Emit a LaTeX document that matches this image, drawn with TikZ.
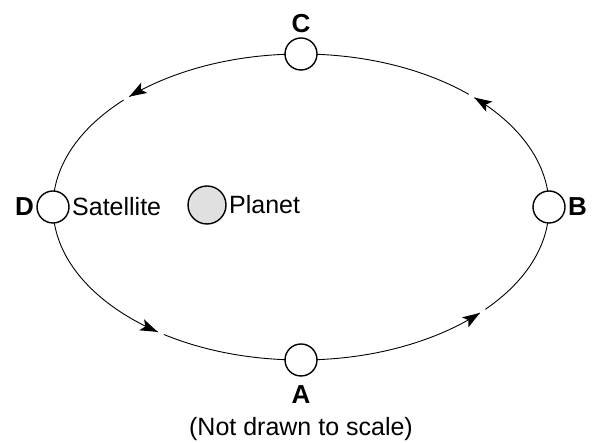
\documentclass[tikz,border=0pt]{standalone}
\usepackage{fontspec}
\setmainfont{Liberation Sans}
\usetikzlibrary{arrows.meta,positioning,decorations.markings,backgrounds}

\begin{document}
\begin{tikzpicture}[
    x=1pt, y=1pt,
    sat/.style={circle, draw, line width=1.4pt, fill=white,
                minimum size=32pt, inner sep=0pt, outer sep=0pt},
    body/.style={sat, fill=black!12, minimum size=38pt},
    pt/.style={font=\fontsize{26}{30}\selectfont\bfseries, inner sep=0pt},
    txt/.style={font=\fontsize{25}{30}\selectfont, inner sep=0pt},
    orbit/.style={line width=0.9pt, postaction={decorate},
        decoration={markings, mark=at position #1 with {
            \fill[white] (0.5pt,-2pt) rectangle (7pt,2pt);
            \fill (0.5pt,0) -- (-17pt,6pt) -- (-13pt,0) -- (-17pt,-6pt) -- cycle;}}}
]
\useasboundingbox (0,0) rectangle (599,443);

% satellite positions on the orbit
\node[sat] (satA) at (301,83) {};
\node[sat] (satB) at (549,236) {};
\node[sat] (satC) at (301,389) {};
\node[sat] (satD) at (53,236) {};

\node[body] (planet) at (207,238) {};

% orbit, one quarter at a time
\begin{scope}[on background layer]
\draw[orbit=0.585] (satA.center) arc[start angle=270, end angle=360, x radius=248, y radius=153];
\draw[orbit=0.432] (satB.center) arc[start angle=0, end angle=90, x radius=248, y radius=153];
\draw[orbit=0.559] (satC.center) arc[start angle=90, end angle=180, x radius=248, y radius=153];
\draw[orbit=0.538] (satD.center) arc[start angle=180, end angle=270, x radius=248, y radius=153];
\end{scope}

\node[pt, below=9pt of satA] (labA) {A};
\node[pt, right=3pt of satB] (labB) {B};
\node[pt, above=5pt of satC] (labC) {C};
\node[pt, left=3pt of satD] (labD) {D};

\node[txt, right=3pt of satD] (satname) {Satellite};
\node[txt, right=3pt of planet] (planetname) {Planet};

\node[txt] (note) at (301,14) {(Not drawn to scale)};

\end{tikzpicture}
\end{document}
